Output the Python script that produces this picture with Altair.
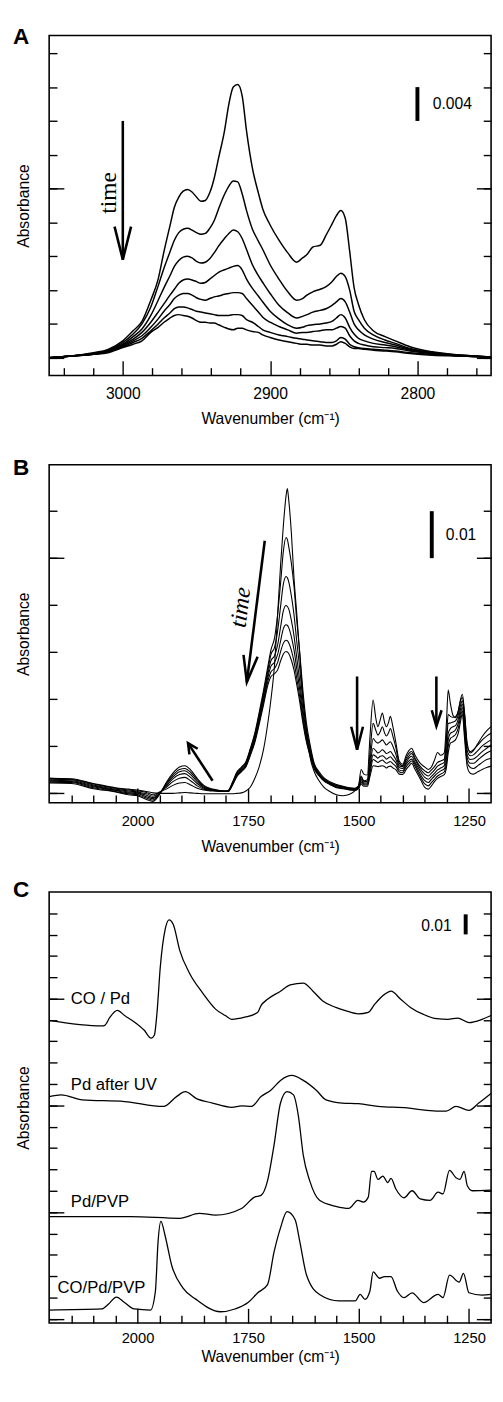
import altair as alt
import pandas as pd

SANS = "Liberation Sans"
SERIF = "Liberation Serif"
X_TITLE = "Wavenumber (cm\u207b\u00b9)"

# ---------------- Panel A data ----------------
A_WN = [3050, 3035, 3020, 3010, 3000, 2993, 2987, 2981, 2976, 2972,
        2968, 2965, 2962, 2959, 2956, 2953, 2950, 2947, 2944, 2941,
        2938, 2935, 2931, 2928, 2925, 2922, 2919, 2916, 2912, 2908,
        2905, 2900, 2894, 2888, 2882, 2878, 2875, 2871, 2866, 2862,
        2858, 2855, 2852, 2849, 2846, 2843, 2840, 2836, 2830, 2822,
        2815, 2805, 2790, 2770, 2750]
A_C1 = [0.0000, 0.0002, 0.0006, 0.0010, 0.0020, 0.0032, 0.0043, 0.0068, 0.0093, 0.0126,
        0.0156, 0.0178, 0.0190, 0.0197, 0.0199, 0.0196, 0.0190, 0.0185, 0.0186, 0.0195,
        0.0212, 0.0236, 0.0268, 0.0300, 0.0320, 0.0323, 0.0310, 0.0268, 0.0224, 0.0195,
        0.0176, 0.0157, 0.0139, 0.0124, 0.0113, 0.0118, 0.0122, 0.0131, 0.0133, 0.0145,
        0.0158, 0.0168, 0.0174, 0.0165, 0.0126, 0.0083, 0.0063, 0.0045, 0.0032, 0.0025,
        0.0020, 0.0013, 0.0007, 0.0003, 0.0001]
A_C2 = [0.0000, 0.0002, 0.0005, 0.0009, 0.0018, 0.0028, 0.0040, 0.0060, 0.0085, 0.0106,
        0.0125, 0.0139, 0.0148, 0.0152, 0.0153, 0.0151, 0.0148, 0.0146, 0.0147, 0.0153,
        0.0162, 0.0176, 0.0193, 0.0203, 0.0209, 0.0208, 0.0194, 0.0174, 0.0152, 0.0138,
        0.0128, 0.0110, 0.0093, 0.0078, 0.0068, 0.0070, 0.0074, 0.0078, 0.0081, 0.0084,
        0.0090, 0.0096, 0.0100, 0.0096, 0.0080, 0.0055, 0.0045, 0.0035, 0.0027, 0.0021,
        0.0017, 0.0011, 0.0006, 0.0003, 0.0001]
A_C3 = [0.0000, 0.0002, 0.0005, 0.0008, 0.0016, 0.0025, 0.0034, 0.0050, 0.0068, 0.0083,
        0.0097, 0.0108, 0.0115, 0.0119, 0.0120, 0.0118, 0.0114, 0.0112, 0.0113, 0.0117,
        0.0124, 0.0132, 0.0141, 0.0147, 0.0151, 0.0149, 0.0141, 0.0128, 0.0110, 0.0097,
        0.0089, 0.0076, 0.0062, 0.0053, 0.0047, 0.0049, 0.0051, 0.0054, 0.0056, 0.0058,
        0.0062, 0.0066, 0.0070, 0.0066, 0.0054, 0.0040, 0.0033, 0.0027, 0.0022, 0.0018,
        0.0015, 0.0010, 0.0006, 0.0003, 0.0001]
A_C4 = [0.0000, 0.0002, 0.0004, 0.0008, 0.0015, 0.0022, 0.0030, 0.0042, 0.0054, 0.0064,
        0.0074, 0.0081, 0.0088, 0.0092, 0.0093, 0.0092, 0.0090, 0.0088, 0.0089, 0.0093,
        0.0097, 0.0101, 0.0104, 0.0106, 0.0108, 0.0109, 0.0104, 0.0093, 0.0082, 0.0073,
        0.0066, 0.0055, 0.0046, 0.0039, 0.0035, 0.0036, 0.0038, 0.0039, 0.0040, 0.0041,
        0.0043, 0.0047, 0.0051, 0.0047, 0.0036, 0.0028, 0.0023, 0.0020, 0.0017, 0.0015,
        0.0013, 0.0009, 0.0005, 0.0002, 0.0001]
A_C5 = [0.0000, 0.0002, 0.0004, 0.0007, 0.0014, 0.0020, 0.0026, 0.0036, 0.0046, 0.0055,
        0.0063, 0.0070, 0.0074, 0.0076, 0.0076, 0.0074, 0.0071, 0.0069, 0.0068, 0.0070,
        0.0072, 0.0073, 0.0075, 0.0076, 0.0077, 0.0077, 0.0076, 0.0070, 0.0062, 0.0054,
        0.0048, 0.0042, 0.0037, 0.0033, 0.0029, 0.0030, 0.0030, 0.0031, 0.0032, 0.0033,
        0.0033, 0.0035, 0.0037, 0.0035, 0.0026, 0.0020, 0.0017, 0.0015, 0.0013, 0.0012,
        0.0011, 0.0008, 0.0005, 0.0002, 0.0001]
A_C6 = [0.0000, 0.0002, 0.0004, 0.0007, 0.0013, 0.0018, 0.0023, 0.0032, 0.0040, 0.0047,
        0.0053, 0.0058, 0.0060, 0.0060, 0.0059, 0.0057, 0.0055, 0.0054, 0.0053, 0.0052,
        0.0051, 0.0050, 0.0050, 0.0050, 0.0051, 0.0051, 0.0050, 0.0045, 0.0042, 0.0037,
        0.0033, 0.0030, 0.0027, 0.0025, 0.0023, 0.0022, 0.0021, 0.0020, 0.0019, 0.0018,
        0.0018, 0.0020, 0.0024, 0.0022, 0.0016, 0.0013, 0.0012, 0.0011, 0.0010, 0.0009,
        0.0008, 0.0006, 0.0004, 0.0002, 0.0001]
A_C7 = [0.0000, 0.0002, 0.0004, 0.0006, 0.0012, 0.0016, 0.0020, 0.0030, 0.0036, 0.0042,
        0.0047, 0.0050, 0.0051, 0.0050, 0.0049, 0.0047, 0.0044, 0.0042, 0.0042, 0.0041,
        0.0041, 0.0039, 0.0036, 0.0034, 0.0033, 0.0035, 0.0035, 0.0033, 0.0031, 0.0030,
        0.0027, 0.0024, 0.0021, 0.0019, 0.0017, 0.0016, 0.0016, 0.0015, 0.0015, 0.0014,
        0.0014, 0.0016, 0.0019, 0.0017, 0.0013, 0.0011, 0.0011, 0.0010, 0.0009, 0.0008,
        0.0007, 0.0005, 0.0003, 0.0002, 0.0001]

A_X_DOMAIN = [2750, 3050]
A_Y_DOMAIN = [-0.0021, 0.0381]
A_X_MAJOR = [3000, 2900, 2800]
A_X_MINOR = [3040, 3020, 2980, 2960, 2940, 2920, 2880, 2860, 2840, 2820, 2780, 2760]
A_Y_TICKS = [0.0, 0.004, 0.008, 0.012, 0.016, 0.02, 0.024, 0.028, 0.032, 0.036]
A_Y_MAJOR = [0.0, 0.02]
A_ARROW_WN = [3000, 3000, 3005.6, 3000, 2994.4]
A_ARROW_AB = [0.0280, 0.0116, 0.0155, 0.0116, 0.0155]
A_ARROW_SEG = [0, 0, 1, 1, 1]
A_BAR_WN = [2800, 2800]
A_BAR_AB = [0.0280, 0.0320]
A_BAR_TEXT = ["0.004"]
A_BAR_TEXT_WN = [2789.6]
A_BAR_TEXT_AB = [0.0300]
A_TIME_WN = [3009.5]
A_TIME_AB = [0.0195]

# ---------------- Panel B data ----------------
B_WN = [2200, 2150, 2100, 2050, 2020, 2000, 1980, 1965, 1950, 1935,
        1920, 1905, 1893, 1880, 1865, 1850, 1830, 1810, 1795, 1785,
        1775, 1765, 1755, 1745, 1735, 1725, 1715, 1705, 1698, 1690,
        1683, 1676, 1670, 1664, 1661, 1658, 1652, 1646, 1640, 1633,
        1626, 1618, 1610, 1600, 1590, 1578, 1565, 1550, 1535, 1520,
        1508, 1500, 1494, 1488, 1480, 1474, 1467, 1461, 1456, 1451,
        1446, 1441, 1437, 1432, 1428, 1422, 1415, 1408, 1400, 1392,
        1386, 1380, 1372, 1362, 1350, 1342, 1335, 1328, 1321, 1314,
        1306, 1301, 1297, 1292, 1286, 1280, 1274, 1270, 1265, 1260,
        1254, 1247, 1240, 1230, 1220, 1210, 1200]
B_C1 = [0.0031, 0.0030, 0.0020, 0.0011, 0.0008, 0.0006, 0.0003, 0.0000, -0.0001, -0.0001,
        -0.0001, 0.0000, 0.0001, 0.0000, -0.0001, -0.0002, -0.0002, -0.0002, -0.0002, -0.0002,
        -0.0001, 0.0000, 0.0004, 0.0012, 0.0030, 0.0055, 0.0092, 0.0150, 0.0200, 0.0273,
        0.0380, 0.0490, 0.0570, 0.0632, 0.0648, 0.0625, 0.0555, 0.0458, 0.0385, 0.0295,
        0.0205, 0.0135, 0.0078, 0.0045, 0.0027, 0.0012, 0.0003, -0.0004, -0.0006, -0.0003,
        0.0005, 0.0015, 0.0050, 0.0040, 0.0038, 0.0120, 0.0198, 0.0160, 0.0141, 0.0155,
        0.0170, 0.0150, 0.0141, 0.0150, 0.0163, 0.0140, 0.0105, 0.0068, 0.0061, 0.0080,
        0.0090, 0.0095, 0.0080, 0.0065, 0.0055, 0.0050, 0.0055, 0.0070, 0.0086, 0.0080,
        0.0085, 0.0150, 0.0219, 0.0190, 0.0165, 0.0160, 0.0175, 0.0195, 0.0210, 0.0170,
        0.0106, 0.0085, 0.0090, 0.0105, 0.0120, 0.0132, 0.0141]
B_C2 = [0.0031, 0.0029, 0.0019, 0.0010, 0.0006, 0.0004, 0.0001, -0.0004, 0.0002, 0.0008,
        0.0016, 0.0021, 0.0022, 0.0017, 0.0010, 0.0006, 0.0004, 0.0003, 0.0005, 0.0023,
        0.0045, 0.0055, 0.0066, 0.0094, 0.0126, 0.0170, 0.0218, 0.0270, 0.0305, 0.0330,
        0.0380, 0.0450, 0.0515, 0.0544, 0.0540, 0.0525, 0.0490, 0.0440, 0.0370, 0.0300,
        0.0220, 0.0150, 0.0105, 0.0062, 0.0046, 0.0032, 0.0024, 0.0018, 0.0014, 0.0011,
        0.0010, 0.0015, 0.0036, 0.0026, 0.0028, 0.0085, 0.0148, 0.0134, 0.0123, 0.0130,
        0.0141, 0.0128, 0.0121, 0.0128, 0.0137, 0.0120, 0.0095, 0.0063, 0.0058, 0.0074,
        0.0084, 0.0088, 0.0074, 0.0058, 0.0047, 0.0043, 0.0049, 0.0056, 0.0065, 0.0068,
        0.0072, 0.0120, 0.0167, 0.0163, 0.0161, 0.0163, 0.0175, 0.0193, 0.0203, 0.0168,
        0.0099, 0.0088, 0.0092, 0.0102, 0.0113, 0.0121, 0.0127]
B_C3 = [0.0029, 0.0028, 0.0017, 0.0008, 0.0004, 0.0002, -0.0002, -0.0007, 0.0001, 0.0012,
        0.0024, 0.0031, 0.0033, 0.0026, 0.0015, 0.0008, 0.0005, 0.0003, 0.0004, 0.0021,
        0.0043, 0.0053, 0.0064, 0.0091, 0.0122, 0.0165, 0.0212, 0.0262, 0.0295, 0.0310,
        0.0345, 0.0400, 0.0445, 0.0461, 0.0458, 0.0450, 0.0420, 0.0380, 0.0325, 0.0265,
        0.0198, 0.0138, 0.0098, 0.0060, 0.0043, 0.0030, 0.0022, 0.0016, 0.0013, 0.0010,
        0.0009, 0.0013, 0.0033, 0.0024, 0.0024, 0.0068, 0.0116, 0.0109, 0.0106, 0.0109,
        0.0113, 0.0107, 0.0102, 0.0106, 0.0109, 0.0099, 0.0081, 0.0058, 0.0056, 0.0070,
        0.0078, 0.0084, 0.0071, 0.0054, 0.0040, 0.0036, 0.0042, 0.0049, 0.0057, 0.0061,
        0.0065, 0.0106, 0.0148, 0.0149, 0.0151, 0.0154, 0.0167, 0.0184, 0.0196, 0.0158,
        0.0090, 0.0079, 0.0081, 0.0090, 0.0100, 0.0107, 0.0113]
B_C4 = [0.0027, 0.0026, 0.0015, 0.0006, 0.0002, 0.0000, -0.0005, -0.0010, 0.0000, 0.0015,
        0.0030, 0.0039, 0.0041, 0.0033, 0.0020, 0.0010, 0.0006, 0.0004, 0.0004, 0.0020,
        0.0041, 0.0051, 0.0061, 0.0088, 0.0118, 0.0160, 0.0205, 0.0254, 0.0282, 0.0292,
        0.0315, 0.0355, 0.0388, 0.0399, 0.0397, 0.0392, 0.0368, 0.0335, 0.0290, 0.0238,
        0.0180, 0.0128, 0.0092, 0.0057, 0.0041, 0.0028, 0.0021, 0.0015, 0.0012, 0.0009,
        0.0008, 0.0012, 0.0029, 0.0021, 0.0021, 0.0057, 0.0095, 0.0090, 0.0085, 0.0088,
        0.0092, 0.0088, 0.0084, 0.0086, 0.0088, 0.0081, 0.0070, 0.0054, 0.0052, 0.0065,
        0.0074, 0.0078, 0.0065, 0.0049, 0.0033, 0.0029, 0.0035, 0.0042, 0.0049, 0.0053,
        0.0058, 0.0088, 0.0127, 0.0137, 0.0141, 0.0144, 0.0158, 0.0175, 0.0189, 0.0148,
        0.0081, 0.0071, 0.0072, 0.0079, 0.0088, 0.0095, 0.0102]
B_C5 = [0.0025, 0.0024, 0.0013, 0.0005, 0.0000, -0.0002, -0.0008, -0.0012, -0.0001, 0.0018,
        0.0034, 0.0045, 0.0047, 0.0039, 0.0024, 0.0012, 0.0006, 0.0004, 0.0003, 0.0019,
        0.0039, 0.0049, 0.0059, 0.0085, 0.0114, 0.0155, 0.0199, 0.0246, 0.0270, 0.0278,
        0.0295, 0.0325, 0.0350, 0.0358, 0.0357, 0.0352, 0.0333, 0.0305, 0.0266, 0.0220,
        0.0168, 0.0120, 0.0087, 0.0055, 0.0040, 0.0027, 0.0020, 0.0013, 0.0011, 0.0008,
        0.0007, 0.0011, 0.0026, 0.0019, 0.0019, 0.0049, 0.0081, 0.0078, 0.0074, 0.0078,
        0.0079, 0.0076, 0.0072, 0.0075, 0.0077, 0.0071, 0.0063, 0.0049, 0.0047, 0.0061,
        0.0068, 0.0072, 0.0061, 0.0043, 0.0026, 0.0022, 0.0029, 0.0036, 0.0042, 0.0047,
        0.0051, 0.0074, 0.0113, 0.0127, 0.0130, 0.0135, 0.0149, 0.0167, 0.0182, 0.0137,
        0.0074, 0.0063, 0.0063, 0.0070, 0.0078, 0.0085, 0.0090]
B_C6 = [0.0023, 0.0022, 0.0011, 0.0003, -0.0002, -0.0004, -0.0011, -0.0015, -0.0002, 0.0020,
        0.0038, 0.0050, 0.0052, 0.0044, 0.0028, 0.0014, 0.0007, 0.0004, 0.0003, 0.0018,
        0.0037, 0.0047, 0.0057, 0.0082, 0.0110, 0.0150, 0.0193, 0.0238, 0.0258, 0.0265,
        0.0278, 0.0302, 0.0319, 0.0325, 0.0324, 0.0320, 0.0304, 0.0280, 0.0246, 0.0205,
        0.0158, 0.0114, 0.0083, 0.0053, 0.0039, 0.0026, 0.0019, 0.0012, 0.0010, 0.0007,
        0.0006, 0.0010, 0.0022, 0.0017, 0.0017, 0.0042, 0.0071, 0.0068, 0.0065, 0.0068,
        0.0070, 0.0066, 0.0063, 0.0065, 0.0067, 0.0062, 0.0056, 0.0045, 0.0043, 0.0056,
        0.0063, 0.0068, 0.0056, 0.0038, 0.0019, 0.0015, 0.0022, 0.0029, 0.0036, 0.0040,
        0.0045, 0.0063, 0.0099, 0.0116, 0.0120, 0.0125, 0.0139, 0.0158, 0.0175, 0.0127,
        0.0065, 0.0054, 0.0052, 0.0058, 0.0065, 0.0071, 0.0074]
B_C7 = [0.0021, 0.0020, 0.0009, 0.0002, -0.0004, -0.0006, -0.0014, -0.0018, -0.0003, 0.0022,
        0.0042, 0.0055, 0.0058, 0.0049, 0.0031, 0.0016, 0.0008, 0.0005, 0.0003, 0.0017,
        0.0035, 0.0045, 0.0055, 0.0079, 0.0106, 0.0145, 0.0187, 0.0230, 0.0248, 0.0254,
        0.0262, 0.0282, 0.0296, 0.0301, 0.0300, 0.0297, 0.0283, 0.0262, 0.0232, 0.0194,
        0.0150, 0.0109, 0.0080, 0.0051, 0.0037, 0.0025, 0.0018, 0.0011, 0.0009, 0.0006,
        0.0005, 0.0009, 0.0019, 0.0014, 0.0014, 0.0035, 0.0058, 0.0057, 0.0056, 0.0057,
        0.0058, 0.0056, 0.0053, 0.0056, 0.0057, 0.0053, 0.0049, 0.0040, 0.0039, 0.0050,
        0.0057, 0.0063, 0.0050, 0.0033, 0.0012, 0.0008, 0.0015, 0.0024, 0.0031, 0.0035,
        0.0039, 0.0054, 0.0085, 0.0106, 0.0109, 0.0114, 0.0128, 0.0148, 0.0168, 0.0116,
        0.0056, 0.0042, 0.0040, 0.0045, 0.0050, 0.0054, 0.0057]

B_X_DOMAIN = [1200, 2200]
B_Y_DOMAIN = [-0.0021, 0.0699]
BC_X_MAJOR = [2000, 1750, 1500, 1250]
BC_X_MINOR = [2150, 2100, 2050, 1950, 1900, 1850, 1800, 1700, 1650, 1600, 1550,
              1450, 1400, 1350, 1300]
B_Y_TICKS = [0.0, 0.01, 0.02, 0.03, 0.04, 0.05, 0.06]
B_Y_MAJOR = [0.0, 0.05]
B_ARROW_WN = [1712.1, 1752.7, 1760.2, 1752.7, 1728.3,
              1830.2, 1885.8, 1864.0, 1885.8, 1882.6,
              1503.2, 1503.2, 1516.5, 1503.2, 1489.9,
              1323.8, 1323.8, 1334.2, 1323.8, 1312.0]
B_ARROW_AB = [0.0537, 0.0236, 0.0294, 0.0236, 0.0290,
              0.0026, 0.0106, 0.0094, 0.0106, 0.0082,
              0.0248, 0.0092, 0.0141, 0.0092, 0.0141,
              0.0248, 0.0142, 0.0176, 0.0142, 0.0176]
B_ARROW_SEG = [0, 0, 1, 1, 1, 2, 2, 3, 3, 3, 4, 4, 5, 5, 5, 6, 6, 7, 7, 7]
B_BAR_WN = [1334.2, 1334.2]
B_BAR_AB = [0.0500, 0.0600]
B_BAR_TEXT = ["0.01"]
B_BAR_TEXT_WN = [1302.4]
B_BAR_TEXT_AB = [0.0548]
B_TIME_WN = [1765.7]
B_TIME_AB = [0.0395]

# ---------------- Panel C data ----------------
C_COPD_WN = [2200, 2081, 2074, 2062.5, 2045.6, 2029.4, 2007.4, 1985.3, 1969.1, 1961.8,
             1955.9, 1948.5, 1937.5, 1928.7, 1919.1, 1904.4, 1882.4, 1852.9, 1823.5, 1801.5,
             1786.8, 1757.4, 1727.9, 1720.6, 1705.9, 1676.5, 1654.4, 1625, 1602.9, 1580.9,
             1551.5, 1529.4, 1500, 1477.9, 1463.2, 1441.2, 1426.5, 1404.4, 1382.4, 1352.9,
             1323.5, 1297.8, 1275.7, 1250, 1220.6, 1200]
C_COPD_AB = [0.1398, 0.1372, 0.1375, 0.1413, 0.1445, 0.1421, 0.1391, 0.1353, 0.1315, 0.1330,
             0.1436, 0.1649, 0.1824, 0.1869, 0.1847, 0.1725, 0.1619, 0.1527, 0.1451, 0.1421,
             0.1403, 0.1413, 0.1436, 0.1467, 0.1497, 0.1535, 0.1565, 0.1573, 0.1535, 0.1489,
             0.1459, 0.1444, 0.1429, 0.1436, 0.1474, 0.1520, 0.1535, 0.1497, 0.1459, 0.1426,
             0.1406, 0.1403, 0.1409, 0.1388, 0.1403, 0.1421]
C_UV_WN = [2200, 2172.8, 2125, 2029.4, 1941.2, 1911.8, 1891.9, 1867.6, 1830.9, 1786.8,
           1764.7, 1742.6, 1720.6, 1698.5, 1676.5, 1650.7, 1625, 1595.6, 1573.5, 1536.8,
           1500, 1455.9, 1389.7, 1345.6, 1301.5, 1279.4, 1250, 1227.9, 1200]
C_UV_AB = [0.1041, 0.1049, 0.1026, 0.1018, 0.0995, 0.1041, 0.1064, 0.1033, 0.1011, 0.0991,
           0.0998, 0.0995, 0.1041, 0.1071, 0.1117, 0.1140, 0.1117, 0.1071, 0.1026, 0.1011,
           0.1008, 0.0995, 0.0988, 0.0977, 0.0973, 0.0995, 0.0977, 0.1011, 0.1056]
C_PVP_WN = [2200, 2014.7, 1904.4, 1860.3, 1823.5, 1764.7, 1735.3, 1720.6, 1705.9, 1691.2,
            1676.5, 1661.8, 1647.1, 1636, 1625, 1610.3, 1588.2, 1551.5, 1522.1, 1501.5,
            1489, 1477.9, 1470.6, 1464.7, 1455.9, 1444.9, 1433.8, 1426.5, 1415.4, 1397.1,
            1378.7, 1360.3, 1338.2, 1319.9, 1308.8, 1294.1, 1279.4, 1270.6, 1261, 1253.7,
            1242.6, 1200]
C_PVP_AB = [0.0479, 0.0479, 0.0471, 0.0494, 0.0486, 0.0517, 0.0570, 0.0578, 0.0646, 0.0813,
            0.1011, 0.1064, 0.1049, 0.0950, 0.0767, 0.0646, 0.0555, 0.0527, 0.0517, 0.0555,
            0.0547, 0.0570, 0.0691, 0.0691, 0.0653, 0.0669, 0.0638, 0.0658, 0.0608, 0.0567,
            0.0600, 0.0562, 0.0555, 0.0593, 0.0585, 0.0695, 0.0661, 0.0653, 0.0691, 0.0623,
            0.0600, 0.0603]
C_COPVP_WN = [2200, 2080.9, 2066.2, 2047.8, 2029.4, 2007.4, 1970.6, 1959.6, 1953.7, 1947.1,
              1937.5, 1922.8, 1897.1, 1867.6, 1812.5, 1779.4, 1750, 1727.9, 1705.9, 1691.2,
              1676.5, 1661.8, 1643.4, 1632.4, 1617.6, 1588.2, 1544.1, 1507.4, 1496.3, 1485.3,
              1474.3, 1466.9, 1452.2, 1441.2, 1426.5, 1411.8, 1397.1, 1378.7, 1352.9, 1319.9,
              1308.8, 1294.1, 1272.1, 1262.5, 1250, 1220.6, 1200]
C_COPVP_AB = [0.0041, 0.0046, 0.0068, 0.0102, 0.0076, 0.0046, 0.0041, 0.0129, 0.0357, 0.0456,
              0.0388, 0.0251, 0.0144, 0.0091, 0.0033, 0.0046, 0.0076, 0.0122, 0.0160, 0.0312,
              0.0426, 0.0502, 0.0464, 0.0357, 0.0205, 0.0114, 0.0084, 0.0084, 0.0114, 0.0091,
              0.0129, 0.0220, 0.0190, 0.0198, 0.0198, 0.0129, 0.0099, 0.0122, 0.0076, 0.0114,
              0.0099, 0.0205, 0.0172, 0.0213, 0.0122, 0.0111, 0.0114]
C_LABELS = ["CO / Pd", "Pd after UV", "Pd/PVP", "CO/Pd/PVP"]
C_LABEL_WN = [2151, 2151, 2151, 2181]
C_LABEL_AB = [0.1497, 0.1097, 0.0547, 0.0144]

C_X_DOMAIN = [1200, 2200]
C_Y_DOMAIN = [-0.002, 0.200]
C_Y_TICKS = [0.0, 0.01, 0.02, 0.03, 0.04, 0.05, 0.06, 0.07, 0.08, 0.09,
             0.10, 0.11, 0.12, 0.13, 0.14, 0.15, 0.16, 0.17, 0.18, 0.19]
C_Y_MAJOR = [0.0, 0.05, 0.10, 0.15]
C_BAR_WN = [1257.5, 1257.5]
C_BAR_AB = [0.1801, 0.1895]
C_BAR_TEXT = ["0.01"]
C_BAR_TEXT_WN = [1289]
C_BAR_TEXT_AB = [0.1839]


def curves_df(grid, curves):
    rows = []
    for name, vals in curves:
        for w, a in zip(grid, vals):
            rows.append({"wn": w, "ab": a, "curve": name})
    return pd.DataFrame(rows)


def pairs_df(named):
    rows = []
    for name, ws, ab in named:
        for w, a in zip(ws, ab):
            rows.append({"wn": w, "ab": a, "curve": name})
    return pd.DataFrame(rows)


def seg_df(ws, ab, seg):
    return pd.DataFrame({"wn": ws, "ab": ab, "seg": seg, "ord": list(range(len(ws)))})


def make_panel(df, xdom, ydom, xmaj, xmin, yticks, ymaj, w, h, lw,
               lab_size, lab_pad, tit_pad, letter, letter_y, extras):
    xs = alt.Scale(domain=xdom, reverse=True, nice=False, zero=False)
    ys = alt.Scale(domain=ydom, nice=False, zero=False)
    ax = dict(domain=False, grid=False, tickColor="black", tickWidth=1.4,
              minExtent=0, maxExtent=200)
    x_major = alt.Axis(orient="bottom", values=xmaj, tickSize=15, offset=-15, format="d",
                       labelFont=SANS, labelFontSize=lab_size, labelColor="black",
                       labelPadding=lab_pad, labelFlush=False, labelOverlap=False,
                       title=X_TITLE, titleFont=SANS, titleFontSize=16,
                       titleFontWeight="normal", titleColor="black",
                       titlePadding=tit_pad, **ax)
    x_minor = alt.Axis(orient="bottom", values=xmin, tickSize=8, offset=-8, labels=False,
                       title=None, **ax)
    y_minor_l = alt.Axis(orient="left", values=yticks, tickSize=8, offset=-8, labels=False,
                         title="Absorbance", titleFont=SANS, titleFontSize=16,
                         titleFontWeight="normal", titleColor="black", titlePadding=17, **ax)
    y_major_l = alt.Axis(orient="left", values=ymaj, tickSize=15, offset=-15, labels=False,
                         title=None, **ax)
    # inward ticks on the right edge: left-oriented axes moved to the right edge
    y_minor_r = alt.Axis(orient="left", values=yticks, tickSize=8, offset=-w, labels=False,
                         title=None, **ax)
    y_major_r = alt.Axis(orient="left", values=ymaj, tickSize=15, offset=-w, labels=False,
                         title=None, **ax)

    lines = alt.Chart(df).mark_line(color="black", strokeWidth=lw,
                                    interpolate="monotone").encode(
        x=alt.X("wn:Q", scale=xs, axis=x_major),
        y=alt.Y("ab:Q", scale=ys, axis=y_minor_l),
        detail="curve:N",
    )
    fdf = pd.DataFrame({"wn": xdom, "ab": ydom})

    def carrier(xa, ya):
        return alt.Chart(fdf).mark_point(opacity=0, size=1).encode(
            x=alt.X("wn:Q", scale=xs, axis=xa),
            y=alt.Y("ab:Q", scale=ys, axis=ya),
        )

    layers = [lines,
              carrier(x_minor, y_major_l),
              carrier(None, y_minor_r),
              carrier(None, y_major_r)]
    for kind, data, props in extras:
        if kind == "seg":
            layers.append(alt.Chart(data).mark_line(color="black", **props).encode(
                x=alt.X("wn:Q", scale=xs, axis=None),
                y=alt.Y("ab:Q", scale=ys, axis=None),
                detail="seg:N", order="ord:Q"))
        elif kind == "text":
            layers.append(alt.Chart(data).mark_text(color="black", **props).encode(
                x=alt.X("wn:Q", scale=xs, axis=None),
                y=alt.Y("ab:Q", scale=ys, axis=None),
                text="t:N"))
    layers.append(alt.Chart(pd.DataFrame({"t": [letter]})).mark_text(
        font=SANS, fontSize=23, fontWeight="bold", align="left", baseline="alphabetic",
        color="black").encode(text="t:N", x=alt.value(-37), y=alt.value(letter_y)))
    return alt.layer(*layers).resolve_axis(x="independent", y="independent").properties(
        width=w, height=h)


# ---- Panel A ----
dfA = curves_df(A_WN, [("c1", A_C1), ("c2", A_C2), ("c3", A_C3), ("c4", A_C4),
                       ("c5", A_C5), ("c6", A_C6), ("c7", A_C7)])
extrasA = [
    ("seg", seg_df(A_ARROW_WN, A_ARROW_AB, A_ARROW_SEG), {"strokeWidth": 2.6}),
    ("seg", seg_df(A_BAR_WN, A_BAR_AB, [0, 0]), {"strokeWidth": 4}),
    ("text", pd.DataFrame({"wn": A_BAR_TEXT_WN, "ab": A_BAR_TEXT_AB, "t": A_BAR_TEXT}),
     {"font": SANS, "fontSize": 16, "align": "left", "baseline": "middle"}),
    ("text", pd.DataFrame({"wn": A_TIME_WN, "ab": A_TIME_AB, "t": ["time"]}),
     {"font": SERIF, "fontSize": 24, "align": "center", "baseline": "middle", "angle": 270}),
]
pA = make_panel(dfA, A_X_DOMAIN, A_Y_DOMAIN, A_X_MAJOR, A_X_MINOR, A_Y_TICKS, A_Y_MAJOR,
                451, 347, 1.5, 16, 10, 10, "A", 9, extrasA)

# ---- Panel B ----
dfB = curves_df(B_WN, [("c1", B_C1), ("c2", B_C2), ("c3", B_C3), ("c4", B_C4),
                       ("c5", B_C5), ("c6", B_C6), ("c7", B_C7)])
extrasB = [
    ("seg", seg_df(B_ARROW_WN, B_ARROW_AB, B_ARROW_SEG), {"strokeWidth": 2.6}),
    ("seg", seg_df(B_BAR_WN, B_BAR_AB, [0, 0]), {"strokeWidth": 4}),
    ("text", pd.DataFrame({"wn": B_BAR_TEXT_WN, "ab": B_BAR_TEXT_AB, "t": B_BAR_TEXT}),
     {"font": SANS, "fontSize": 16, "align": "left", "baseline": "middle"}),
    ("text", pd.DataFrame({"wn": B_TIME_WN, "ab": B_TIME_AB, "t": ["time"]}),
     {"font": SERIF, "fontSize": 24, "fontStyle": "italic", "align": "center",
      "baseline": "middle", "angle": 277}),
]
pB = make_panel(dfB, B_X_DOMAIN, B_Y_DOMAIN, BC_X_MAJOR, BC_X_MINOR, B_Y_TICKS, B_Y_MAJOR,
                451, 345, 1.1, 15, 11, 11, "B", 10.5, extrasB)

# ---- Panel C ----
dfC = pairs_df([("copd", C_COPD_WN, C_COPD_AB), ("uv", C_UV_WN, C_UV_AB),
                ("pvp", C_PVP_WN, C_PVP_AB), ("copvp", C_COPVP_WN, C_COPVP_AB)])
extrasC = [
    ("seg", seg_df(C_BAR_WN, C_BAR_AB, [0, 0]), {"strokeWidth": 4}),
    ("text", pd.DataFrame({"wn": C_BAR_TEXT_WN, "ab": C_BAR_TEXT_AB, "t": C_BAR_TEXT}),
     {"font": SANS, "fontSize": 16, "align": "right", "baseline": "middle"}),
    ("text", pd.DataFrame({"wn": C_LABEL_WN, "ab": C_LABEL_AB, "t": C_LABELS}),
     {"font": SANS, "fontSize": 17, "align": "left", "baseline": "middle"}),
]
pC = make_panel(dfC, C_X_DOMAIN, C_Y_DOMAIN, BC_X_MAJOR, BC_X_MINOR, C_Y_TICKS, C_Y_MAJOR,
                451, 440, 1.3, 15, 8, 3, "C", 5, extrasC)

chart = alt.vconcat(pA, pB, pC, spacing=91, bounds="flush").properties(
    padding={"left": 4, "top": 4, "right": 0, "bottom": 0},
    background="white",
).configure_view(stroke="black", strokeWidth=1.6)

chart.save("out.html", embed_options={"renderer": "svg", "actions": False})
